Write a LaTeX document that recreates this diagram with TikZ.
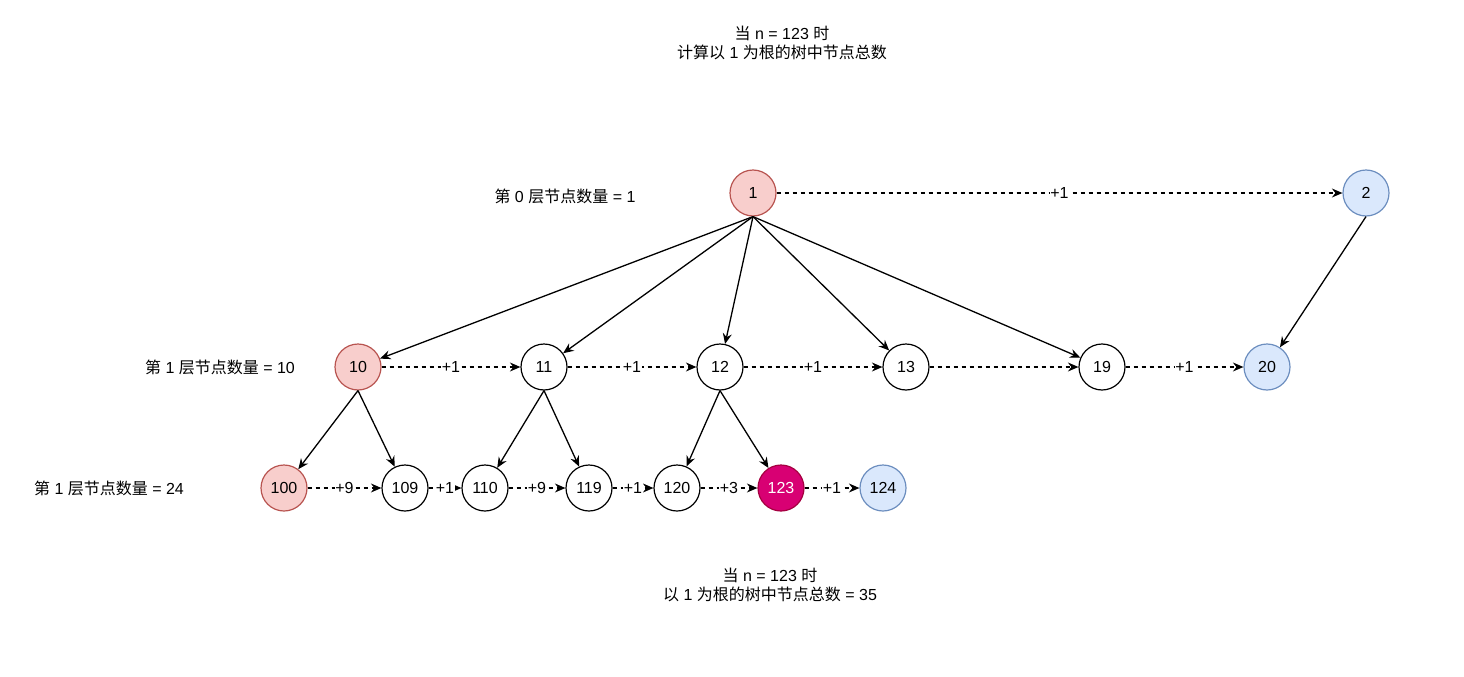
\documentclass[tikz,border=0pt]{standalone}
\usepackage{fontspec}
\setmainfont{Liberation Sans}
\newfontfamily\cjk{Noto Sans CJK SC}
\usepackage{xcolor}
\usetikzlibrary{arrows.meta}

\definecolor{redfill}{HTML}{F8CECC}
\definecolor{redline}{HTML}{B85450}
\definecolor{bluefill}{HTML}{DAE8FC}
\definecolor{blueline}{HTML}{6C8EBF}
\definecolor{hitfill}{HTML}{D80073}
\definecolor{hitline}{HTML}{A50040}

\begin{document}
\begin{tikzpicture}[x=1pt,y=-1pt,
        >={Stealth[length=10.5pt,width=9pt,inset=3.5pt]},
        num/.style={draw,circle,minimum size=46pt,inner sep=0pt,line width=1.2pt,font=\fontsize{16}{19}\selectfont},
        firstnode/.style={num,fill=redfill,draw=redline},
        nextnode/.style={num,fill=bluefill,draw=blueline},
        hitnode/.style={num,fill=hitfill,draw=hitline,text=white},
        child/.style={->,line width=1.3pt},
        jump/.style={->,line width=1.3pt,dash pattern=on 4pt off 4pt},
        inc/.style={fill=white,inner sep=0.5pt,font=\fontsize{16}{19}\selectfont},
        txt/.style={align=center,font=\fontsize{16}{19}\selectfont}]
        \useasboundingbox (0,0) rectangle (1464,677);
        % title
        \node[txt] (title) at (782,43) {{\cjk 当} n = 123 {\cjk 时}\\{\cjk 计算以} 1 {\cjk 为根的树中节点总数}};
        \node[txt] (result) at (770,585) {{\cjk 当} n = 123 {\cjk 时}\\{\cjk 以} 1 {\cjk 为根的树中节点总数} = 35};
        % level labels
        \node[txt] (lvl0) at (565,196) {{\cjk 第} 0 {\cjk 层节点数量} = 1};
        \node[txt] (lvl1) at (220,367) {{\cjk 第} 1 {\cjk 层节点数量} = 10};
        \node[txt] (lvl2) at (109,488) {{\cjk 第} 1 {\cjk 层节点数量} = 24};
        % level 0
        \node[firstnode] (n1) at (753,193) {1};
        \node[nextnode] (n2) at (1366,193) {2};
        % level 1
        \node[firstnode] (n10) at (358,367) {10};
        \node[num] (n11) at (544,367) {11};
        \node[num] (n12) at (720,367) {12};
        \node[num] (n13) at (906,367) {13};
        \node[num] (n19) at (1102,367) {19};
        \node[nextnode] (n20) at (1267,367) {20};
        % level 2
        \node[firstnode] (n100) at (284,488) {100};
        \node[num] (n109) at (405,488) {109};
        \node[num] (n110) at (485,488) {110};
        \node[num] (n119) at (589,488) {119};
        \node[num] (n120) at (677,488) {120};
        \node[hitnode] (n123) at (781,488) {123};
        \node[nextnode] (n124) at (883,488) {124};
        % children
        \foreach \c in {10,11,12,13,19}
            \draw[child] (n1.south) -- (n\c);
        \draw[child] (n2.south) -- (n20);
        \draw[child] (n10.south) -- (n100);
        \draw[child] (n10.south) -- (n109);
        \draw[child] (n11.south) -- (n110);
        \draw[child] (n11.south) -- (n119);
        \draw[child] (n12.south) -- (n120);
        \draw[child] (n12.south) -- (n123);
        % counting steps
        \draw[jump] (n1) -- node[inc] {+1} (n2);
        \draw[jump] (n10) -- node[inc] {+1} (n11);
        \draw[jump] (n11) -- node[inc] {+1} (n12);
        \draw[jump] (n12) -- node[inc] {+1} (n13);
        \draw[jump] (n13) -- (n19);
        \draw[jump] (n19) -- node[inc] {+1} (n20);
        \draw[jump] (n100) -- node[inc] {+9} (n109);
        \draw[jump] (n109) -- node[inc] {+1} (n110);
        \draw[jump] (n110) -- node[inc] {+9} (n119);
        \draw[jump] (n119) -- node[inc] {+1} (n120);
        \draw[jump] (n120) -- node[inc] {+3} (n123);
        \draw[jump] (n123) -- node[inc] {+1} (n124);
    \end{tikzpicture}
\end{document}
